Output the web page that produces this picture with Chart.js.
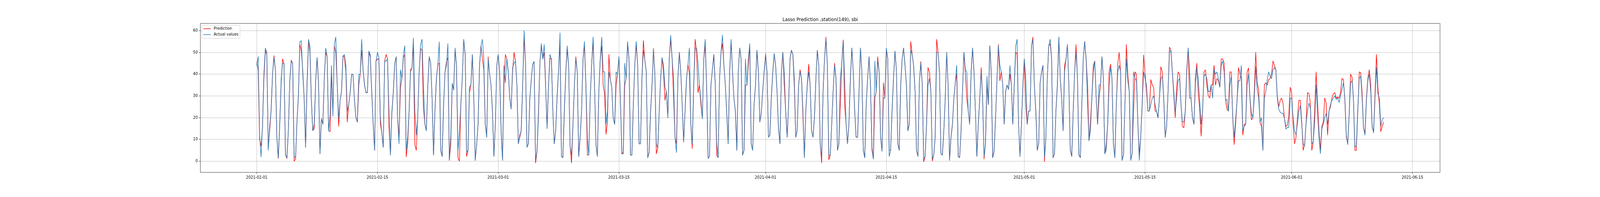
<!DOCTYPE html>
<html>
<head>
<meta charset="utf-8">
<title>Lasso Prediction ,station(149), sbi</title>
<script src="https://cdn.jsdelivr.net/npm/chart.js@4.4.1/dist/chart.umd.min.js"></script>
<style>
    html, body { margin: 0; padding: 0; background: #fff; overflow: hidden; }
    canvas { display: block; }
</style>
</head>
<body>
<canvas id="chart" width="4320" height="504" style="width: 100vw; height: 100vh;"></canvas>
<script>
"use strict";

var TITLE = "Lasso Prediction ,station(149), sbi";
var STEP_HOURS = 4; // one reading every 4 hours, starting 2021-02-01 00:00

// x ticks, in days since 2021-02-01
var tickDays = [0, 14, 28, 42, 59, 73, 89, 103, 120, 134];
var tickLabels = ["2021-02-01", "2021-02-15", "2021-03-01", "2021-03-15", "2021-04-01",
    "2021-04-15", "2021-05-01", "2021-05-15", "2021-06-01", "2021-06-15"];
var yTicks = [0, 10, 20, 30, 40, 50, 60];

// one line per day: 00h, 04h, 08h, 12h, 16h, 20h
var actualFeb = [
    44, 48, 12, 2, 16, 40,
    52, 50, 5, 16, 23, 40,
    47.6, 42, 11, 1.6, 17, 38,
    45, 45, 2.8, 1.6, 14, 37,
    46, 45, 2.2, 1.6, 18, 30,
    54.8, 55.4, 40, 29, 6.4, 35,
    56, 53, 28, 14, 17, 37,
    47.6, 35, 3.4, 19.5, 17, 38,
    52, 48, 14, 20.7, 44, 20.7,
    54, 57, 35, 19.5, 28, 32,
    48, 49, 44, 23, 26, 31.5,
    40, 40, 28, 20, 18, 40,
    40, 56, 42, 35, 31.5, 31.5,
    50.6, 49, 32, 17, 5, 46,
    50, 47.6, 20, 13, 6.4, 46,
    46, 47, 23, 2.8, 22, 31.5,
    45, 48, 20, 8, 42, 38,
    49, 53, 5, 11, 23, 41,
    43, 56.6, 23, 12, 20, 41,
    53.6, 56, 34, 17, 14, 34,
    48, 45, 29, 2.8, 23, 38,
    44.6, 54.8, 5, 2.2, 26, 41,
    44, 54, 0.4, 12, 35.7, 32.7,
    52, 44, 5, 13.6, 26, 38,
    56, 49, 4, 5, 34, 35,
    49, 29, 0.4, 7.6, 17, 44,
    53, 56, 47, 17, 11, 47,
    40, 35, 23, 2.2, 17, 44
];
var actualMar = [
    49, 41, 14, 0.4, 44, 36,
    47, 41, 29, 24, 43, 45,
    46, 35, 8, 12, 14, 35,
    60, 45, 6.4, 8, 29, 37.5,
    44.6, 45.8, 0.4, 5, 20, 45,
    54, 47, 53.6, 35, 15, 35,
    49, 47, 23, 8, 14, 30,
    42, 59, 2.2, 1.6, 23, 41,
    53, 44, 7, 2.8, 17, 35,
    47, 41, 2.2, 11, 23, 47,
    55, 35, 11, 2.8, 29, 44,
    57, 35, 7.6, 2.2, 32, 47,
    57, 41, 41, 17, 23, 41,
    37.5, 34, 20, 17, 41, 40,
    48, 29, 3.4, 3.4, 45, 38,
    55, 47, 2.8, 2.8, 26, 44,
    55, 44, 8, 8, 38, 51,
    46.4, 41, 1.6, 4, 23, 35,
    51, 40, 8, 6, 23, 38,
    47.6, 44, 34, 32, 20, 47,
    57.8, 47, 38, 11, 4, 38,
    50, 41, 26, 8.8, 23, 38,
    44.3, 52, 17, 8, 35, 52,
    52, 45, 35, 28, 19.5, 47,
    56, 35, 1.3, 2.2, 35, 42,
    49, 35, 8, 1.6, 38, 50,
    58, 44, 35, 22, 8, 41,
    56, 41, 29, 23, 5, 41,
    52, 47, 2.8, 5, 47, 35,
    47, 54, 8, 5, 26, 35,
    51, 41, 18, 22, 32, 41
];
var actualApr = [
    49, 41, 11, 12, 29, 41,
    49.4, 44, 32, 15, 8, 41,
    50, 41, 23, 11, 26, 47,
    51, 49, 38, 11, 14, 35,
    41, 38, 23, 1.6, 23, 35,
    41, 35, 14, 11, 20, 38,
    51, 44, 8, 1.6, 32, 47,
    56, 44, 2.8, 2.8, 17, 32,
    44, 38, 5, 8, 38, 44.6,
    55, 38, 17, 8, 17, 38,
    52, 41, 23, 11, 11, 32,
    52, 41, 5, 1.6, 26, 38,
    48, 35, 5, 1, 46, 32,
    46.4, 41, 11, 4.6, 29, 29,
    52, 47, 2.2, 5, 23, 38,
    50.6, 42, 8, 5, 35, 47,
    52, 44, 35, 14, 17, 51,
    49, 44, 32, 5, 2.2, 36,
    45, 35, 1, 2.2, 17, 35,
    38, 32, 1, 2.8, 11, 50,
    50, 41, 3.4, 2.8, 14, 29,
    50, 35, 0.4, 11, 17, 29,
    36, 44, 2.2, 1.6, 14, 32,
    50, 42, 41, 23, 17, 41,
    52, 41, 23, 2.2, 17, 29,
    41, 29, 2.2, 8, 39, 26,
    53, 41, 1.6, 4.6, 20, 38,
    53, 44, 41, 35, 17, 32,
    35, 33, 44, 35, 17, 35,
    53, 56, 17, 2.2, 17, 35
];
var actualMay = [
    47, 38, 17, 23, 23, 53,
    56, 35, 23, 5, 8, 36,
    41, 44, 1.6, 11, 38, 53,
    56, 47, 1.6, 3.4, 23, 35,
    57, 38, 29, 14, 41, 47,
    53.6, 35, 5, 2.2, 23, 41,
    50, 38, 2.8, 1.6, 26, 47,
    55, 47, 26, 9.4, 14, 29,
    41, 46, 29, 17, 35, 35,
    48, 38, 3.4, 5, 17, 35,
    43, 38, 8, 1.6, 26, 41,
    44, 41, 0.4, 2.8, 26, 47,
    37, 32, 0.4, 3.4, 41, 38,
    37, 17, 0.4, 11, 26, 41,
    38, 35, 23, 23, 26, 29,
    30, 26, 23, 20, 29, 38,
    39, 29, 11, 16, 32, 50,
    51, 41, 32, 22, 29, 37,
    38, 26, 18, 18, 23, 41,
    52, 41, 29, 20, 17, 35,
    43, 38, 28, 17, 23, 39,
    40, 38, 32, 32, 35, 29,
    42, 40, 41, 38, 34, 44,
    46, 41, 28, 28.4, 23, 35,
    39, 20, 11, 19, 28, 37,
    37, 44, 14, 16, 17, 35,
    40, 29, 22, 20, 29, 43.4,
    33, 29, 18, 20, 5, 29,
    32, 37.5, 41, 39, 38, 42,
    43, 42, 29, 24, 22.5, 22,
    22, 19.5, 14.8, 15.5, 15.5, 29
];
var actualJun = [
    29, 20, 14, 12, 17, 23,
    25.5, 17, 8, 7, 17, 23,
    26.7, 24.3, 8, 8.8, 18, 35,
    22, 11, 3.5, 15, 17, 20,
    22, 17, 23, 26, 28, 29,
    30, 28.4, 29, 27, 30, 33,
    36, 29, 12, 7.6, 21, 36,
    37, 29, 6.4, 7, 24, 38,
    39, 29, 15.3, 12, 28, 37,
    40, 32, 16, 13, 29, 43,
    31, 29, 16, 19, 20
];

var predFeb = [
    45.5, 42, 10, 7, 15, 38,
    51, 49, 6, 14, 23, 40,
    48.5, 42, 11, 1.3, 17, 36,
    47, 44.6, 3, 1.3, 14, 37,
    46.4, 45, 0, 1, 18, 30,
    53.6, 50.6, 42, 29, 6.4, 35,
    55, 50, 28, 14, 15, 37,
    47.6, 36, 3.4, 19.5, 17, 38,
    50, 48, 14, 13.6, 40, 23,
    53, 50, 35, 16, 28, 32,
    48.5, 48, 41, 18, 26, 31.5,
    40, 40, 28, 20, 18, 35,
    40, 51, 42, 35, 31.5, 31.5,
    50.6, 47.6, 32, 17, 5, 46,
    47, 47, 17, 13, 6.4, 46,
    49, 47, 16, 2.8, 22, 31.5,
    45, 48, 20, 11, 34, 38,
    47.6, 49, 2, 8, 23, 42,
    43, 53, 7.6, 5, 20, 41,
    51.8, 51, 24, 17, 14, 34,
    48, 45, 29, 2.8, 23, 38,
    44.6, 45, 5, 2.2, 26, 41,
    45.8, 47.6, 0.4, 8, 35.7, 32.7,
    51, 44, 1.6, 0, 26, 38,
    55.7, 49, 2.2, 5, 31.5, 35,
    49, 29, 0.4, 7.6, 17, 44,
    53, 47, 42, 17, 11, 48,
    40, 35, 23, 2.2, 17, 44
];
var predMar = [
    49, 41, 14, 0.4, 35, 49,
    47, 41, 29, 24, 41, 50,
    46, 35, 8, 11, 14, 35,
    57, 45, 6.4, 8, 29, 37.5,
    44.6, 45.8, -0.8, 4.6, 23, 45,
    53, 47, 50, 34, 15, 35,
    47.3, 47, 23, 8, 14, 30,
    42, 53.6, 2.2, 1.6, 23, 41,
    51, 44, 7, -0.8, 17, 35,
    48, 41, 2.2, 11, 23, 47,
    53, 35, 2.8, 2.8, 29, 44,
    55, 35, 7.6, 2.2, 32, 47,
    53, 35, 31, 12.4, 18, 49,
    37.5, 34, 20, 17, 35, 40,
    48, 29, 3.4, 4, 35, 38,
    53.6, 47, 2.8, 2.8, 26, 44,
    53.6, 44, 8, 8, 38, 55.4,
    46.4, 41, 1.6, 4, 23, 35,
    51.8, 40, 3.4, 6, 23, 38,
    47.6, 41, 28, 32, 20, 47,
    56, 47, 29, 11, 8, 38,
    50, 41, 26, 8.8, 23, 38,
    44.3, 40.4, 17, 5.8, 35, 56,
    50, 31.5, 35, 26, 19.5, 47,
    53, 35, 1.3, 2.2, 35, 42,
    49, 35, 2.8, 1.6, 38, 50,
    54, 44, 35, 22, 8, 41,
    55, 41, 29, 23, 5, 41,
    52, 47, 2.8, 5, 35, 35,
    44, 53, 8, 5, 26, 35,
    51, 41, 18, 22, 32, 41
];
var predApr = [
    49.4, 41, 11, 12, 29, 41,
    49.4, 44, 32, 15, 8, 41,
    50, 35, 23, 11, 26, 47,
    51, 49, 34, 11, 14, 35,
    42, 38, 20, 1.6, 23, 35,
    44.6, 35, 14, 11, 20, 38,
    51, 44, 8, -0.8, 32, 47,
    57, 44, 0.7, 2.8, 17, 32,
    45, 38, 5, 8, 26, 44.6,
    55.7, 26, 17, 8, 17, 38,
    52, 41, 23, 11, 11, 32,
    52, 41, 5, 1.6, 26, 38,
    48, 35, 6.4, 1, 29, 32,
    48, 41, 11, 4.6, 36, 29,
    51, 47, 5, 5, 23, 38,
    50.6, 42, 8, 5, 35, 47,
    52, 44, 35, 14, 17, 55,
    49, 44, 32, 5, 2.2, 36,
    45.8, 35, -0.2, 2.2, 17, 43,
    41, 32, 0.1, 2.8, 11, 56,
    50, 41, 3.4, 2.8, 14, 29,
    50, 35, 0.4, 11, 17, 29,
    36, 40, 2.2, 1.6, 14, 32,
    50, 40, 29, 23, 17, 41,
    52, 41, 23, 2.2, 17, 29,
    43, 29, 1, 8, 35, 26,
    53, 41, 1.6, 4.6, 20, 38,
    53.6, 37, 41, 35, 17, 32,
    35, 33, 40, 35, 17, 35,
    50, 49.4, 17, 2.2, 17, 35
];
var predMay = [
    47, 26, 17, 23, 23, 53,
    57, 35, 23, 5, 8, 36,
    41, 44, -0.2, 11, 38, 53,
    54, 47, 1.6, 3.4, 23, 35,
    57, 38, 29, 14, 44, 47,
    53.6, 35, 5, 2.2, 23, 41,
    53.6, 38, 2.8, 1.6, 26, 47,
    55, 47, 35, 9.4, 18, 29,
    44, 46, 29, 17, 29, 35,
    48, 38, 3.4, 7.6, 17, 41,
    44.6, 38, 8, 1.6, 26, 44.6,
    50, 41, 0.4, 2.8, 26, 53.6,
    40, 32, 0.4, 3.4, 23, 41,
    40, 17, 3.4, 11, 26, 48.8,
    40.4, 32, 23, 23, 37.5, 35,
    33.9, 23, 23, 20, 29, 43.4,
    41, 29, 11, 16, 32, 52.4,
    51, 41, 30, 20, 34, 41,
    40, 26, 16, 15.4, 23, 42,
    52, 29, 29, 20, 17, 38,
    45, 31.5, 24, 11.5, 23, 41,
    42, 35, 30, 29, 35, 35,
    44, 35, 38, 37, 34, 47,
    47, 45, 28, 24, 23, 41,
    41, 20, 7.6, 17, 28, 43,
    40, 38, 12, 17, 17, 41,
    42.8, 29, 19, 20, 32, 50,
    36, 33, 17.7, 16, 5, 35,
    36, 35, 37.5, 38, 40, 46,
    44, 42, 30, 25, 28, 29,
    26.7, 19.5, 16, 16.5, 20.7, 34
];
var predJun = [
    31.5, 17, 8, 11, 19.5, 28,
    28, 18, 5, 7.6, 17, 31.5,
    31, 27, 5, 8.8, 23, 41,
    26.7, 14, 5, 16, 18, 29,
    26.7, 12, 23, 25, 29, 31,
    31.5, 29, 29.5, 29, 31.5, 38,
    37.5, 28, 11, 8.2, 21.5, 40,
    38.5, 28, 5, 5, 23, 41,
    40.7, 31.5, 15.3, 13, 29, 38,
    42, 35, 15.5, 14, 31.5, 49,
    33.9, 26, 13.6, 16, 18
];

var actualValues = [].concat(actualFeb, actualMar, actualApr, actualMay, actualJun);
var predValues = [].concat(predFeb, predMar, predApr, predMay, predJun);

var PRED_COLOR = "#ff0000";
var ACTUAL_COLOR = "#1f77b4";
var GRID_COLOR = "#b0b0b0";
var FONT = "'DejaVu Sans', sans-serif";

function toPoints(values) {
    return values.map(function (v, i) {
        return { x: i * STEP_HOURS / 24, y: v };
    });
}

// last point sits at the end of the data; matplotlib pads 5% each side
var lastDay = (actualValues.length - 1) * STEP_HOURS / 24;
var xPad = lastDay * 0.05;

function roundedBox(ctx, x, y, w, h, r) {
    ctx.beginPath();
    ctx.moveTo(x + r, y);
    ctx.arcTo(x + w, y, x + w, y + h, r);
    ctx.arcTo(x + w, y + h, x, y + h, r);
    ctx.arcTo(x, y + h, x, y, r);
    ctx.arcTo(x, y, x + w, y, r);
    ctx.closePath();
}

var axesDecor = {
    id: "axesDecor",
    afterDraw: function (chart) {
        var a = chart.chartArea;
        var ctx = chart.ctx;
        ctx.save();

        ctx.strokeStyle = "#000";
        ctx.lineWidth = 0.8;
        ctx.strokeRect(a.left, a.top, a.right - a.left, a.bottom - a.top);

        ctx.fillStyle = "#000";
        ctx.font = "12px " + FONT;
        ctx.textAlign = "center";
        ctx.textBaseline = "alphabetic";
        ctx.fillText(TITLE, (a.left + a.right) / 2, a.top - 6);

        // legend, upper left inside the axes
        ctx.font = "10px " + FONT;
        var sets = chart.data.datasets;
        var textW = 0;
        sets.forEach(function (ds) {
            textW = Math.max(textW, ctx.measureText(ds.label).width);
        });
        var bx = a.left + 4, by = a.top + 5;
        var bw = 32 + textW + 4, bh = 33;
        roundedBox(ctx, bx, by, bw, bh, 2);
        ctx.fillStyle = "rgba(255,255,255,0.8)";
        ctx.fill();
        ctx.strokeStyle = "#cccccc";
        ctx.lineWidth = 1;
        ctx.stroke();

        ctx.textAlign = "left";
        ctx.textBaseline = "middle";
        sets.forEach(function (ds, i) {
            var ry = by + 8.5 + i * 15;
            ctx.strokeStyle = ds.borderColor;
            ctx.lineWidth = 1.5;
            ctx.beginPath();
            ctx.moveTo(bx + 4, ry);
            ctx.lineTo(bx + 24, ry);
            ctx.stroke();
            ctx.fillStyle = "#000";
            ctx.fillText(ds.label, bx + 32, ry);
        });

        ctx.restore();
    }
};

new Chart(document.getElementById("chart"), {
    type: "line",
    data: {
        datasets: [{
            label: "Prediction",
            data: toPoints(predValues),
            borderColor: PRED_COLOR,
            borderWidth: 1.5,
            borderJoinStyle: "round",
            pointRadius: 0,
            fill: false,
            order: 2
        }, {
            label: "Actual values",
            data: toPoints(actualValues),
            borderColor: ACTUAL_COLOR,
            borderWidth: 1.5,
            borderJoinStyle: "round",
            pointRadius: 0,
            fill: false,
            order: 1
        }]
    },
    options: {
        responsive: false,
        devicePixelRatio: 1,
        animation: false,
        events: [],
        layout: {
            padding: { left: 0, right: 432, top: 60, bottom: 0 }
        },
        plugins: {
            legend: { display: false },
            title: { display: false },
            tooltip: { enabled: false }
        },
        scales: {
            x: {
                type: "linear",
                min: -xPad,
                max: lastDay + xPad,
                afterBuildTicks: function (scale) {
                    scale.ticks = tickDays.map(function (d) { return { value: d }; });
                },
                afterFit: function (scale) { scale.height = 63; },
                border: { display: false },
                grid: {
                    color: GRID_COLOR,
                    lineWidth: 0.8,
                    tickLength: 4,
                    tickColor: "#000",
                    tickWidth: 0.8
                },
                ticks: {
                    autoSkip: false,
                    maxRotation: 0,
                    padding: 3,
                    color: "#000",
                    font: { family: FONT, size: 10 },
                    callback: function (value) {
                        var i = tickDays.indexOf(value);
                        return i >= 0 ? tickLabels[i] : "";
                    }
                }
            },
            y: {
                type: "linear",
                min: -5.15,
                max: 63.3,
                afterBuildTicks: function (scale) {
                    scale.ticks = yTicks.map(function (v) { return { value: v }; });
                },
                afterFit: function (scale) { scale.width = 541; },
                border: { display: false },
                grid: {
                    color: GRID_COLOR,
                    lineWidth: 0.8,
                    tickLength: 4,
                    tickColor: "#000",
                    tickWidth: 0.8
                },
                ticks: {
                    padding: 3,
                    color: "#000",
                    font: { family: FONT, size: 10 }
                }
            }
        }
    },
    plugins: [axesDecor]
});
</script>
</body>
</html>
